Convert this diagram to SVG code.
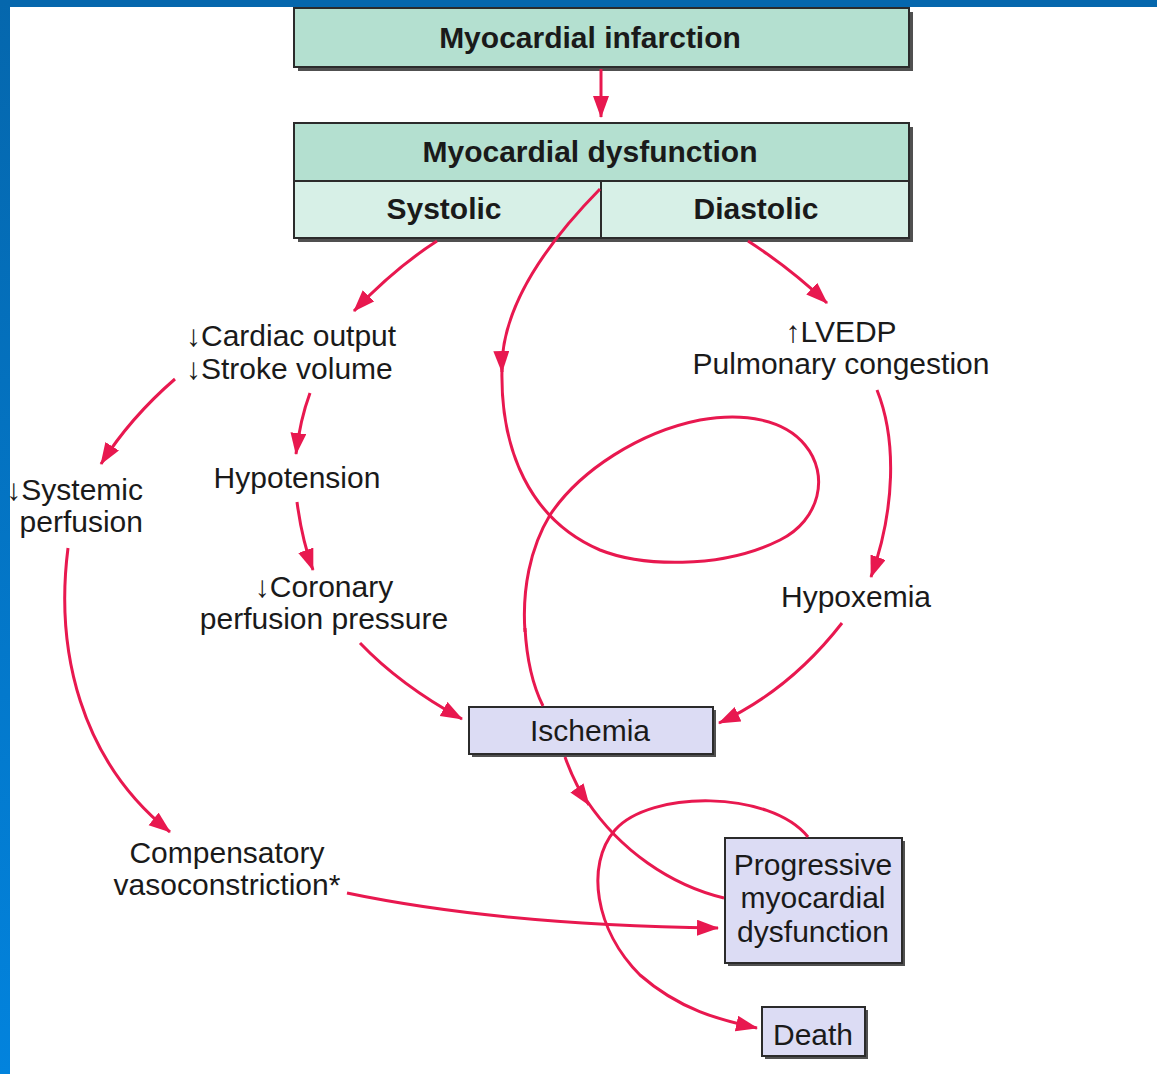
<svg xmlns="http://www.w3.org/2000/svg" width="1157" height="1074" viewBox="0 0 1157 1074">
<style>
.t{font-family:"Liberation Sans",Arial,Helvetica,sans-serif;font-size:30px;fill:#1a1a1a;text-anchor:middle}
.b{font-weight:bold}
.l{text-anchor:start}
.e{text-anchor:end}
.sh{fill:#505050}
.bx{stroke:#2b2b2b;stroke-width:2}
.g1{fill:#b4e0d0}
.g2{fill:#d7f0e7}
.pu{fill:#dcdcf4}
.c{fill:none;stroke:#e8184f;stroke-width:3}
.ar{marker-end:url(#ah)}
</style>
<defs>
<linearGradient id="lb" x1="0" y1="0" x2="0" y2="1">
<stop offset="0" stop-color="#0567ad"/>
<stop offset="1" stop-color="#0283dd"/>
</linearGradient>
<marker id="ah" markerUnits="userSpaceOnUse" markerWidth="24" markerHeight="18" refX="21" refY="8" orient="auto">
<path d="M0,0 L22,8 L0,16 Z" fill="#e8184f"/>
</marker>
</defs>
<rect x="0" y="0" width="1157" height="1074" fill="#ffffff"/>
<rect x="0" y="0" width="1157" height="7" fill="#0567ad"/>
<rect x="0" y="0" width="10" height="1074" fill="url(#lb)"/>

<g id="n-infarction">
<rect class="sh" x="298" y="12" width="615" height="59"/>
<rect class="g1 bx" x="294" y="8" width="615" height="59"/>
<text class="t b" x="590" y="48">Myocardial infarction</text>
</g>

<g id="n-dysfunction">
<rect class="sh" x="298" y="127" width="615" height="115"/>
<rect class="g1" x="294" y="123" width="615" height="58"/>
<rect class="g2" x="294" y="181" width="615" height="57"/>
<rect class="bx" x="294" y="123" width="615" height="115" fill="none"/>
<line class="bx" x1="294" y1="181" x2="909" y2="181"/>
<line class="bx" x1="601" y1="181" x2="601" y2="238"/>
<text class="t b" x="590" y="162">Myocardial dysfunction</text>
</g>

<g id="n-systolic">
<text class="t b" x="444" y="219">Systolic</text>
</g>
<g id="n-diastolic">
<text class="t b" x="756" y="219">Diastolic</text>
</g>

<g id="n-cardiac">
<text class="t l" x="186" y="346">↓Cardiac output</text>
<text class="t l" x="186" y="379">↓Stroke volume</text>
</g>

<g id="n-systemic">
<text class="t e" x="143" y="500">↓Systemic</text>
<text class="t e" x="143" y="532">perfusion</text>
</g>

<g id="n-hypotension">
<text class="t" x="297" y="488">Hypotension</text>
</g>

<g id="n-coronary">
<text class="t" x="324" y="597">↓Coronary</text>
<text class="t" x="324" y="629">perfusion pressure</text>
</g>

<g id="n-lvedp">
<text class="t" x="841" y="342">↑LVEDP</text>
<text class="t" x="841" y="374">Pulmonary congestion</text>
</g>

<g id="n-hypoxemia">
<text class="t" x="856" y="607">Hypoxemia</text>
</g>

<g id="n-ischemia">
<rect class="sh" x="472" y="710" width="244" height="47"/>
<rect class="pu bx" x="469" y="707" width="244" height="47"/>
<text class="t" x="590" y="741">Ischemia</text>
</g>

<g id="n-compensatory">
<text class="t" x="227" y="863">Compensatory</text>
<text class="t" x="227" y="895">vasoconstriction*</text>
</g>

<g id="n-progressive">
<rect class="sh" x="728" y="841" width="177" height="125"/>
<rect class="pu bx" x="725" y="838" width="177" height="125"/>
<text class="t" x="813" y="875">Progressive</text>
<text class="t" x="813" y="908">myocardial</text>
<text class="t" x="813" y="942">dysfunction</text>
</g>

<g id="n-death">
<rect class="sh" x="765" y="1010" width="103" height="49"/>
<rect class="pu bx" x="762" y="1007" width="103" height="49"/>
<text class="t" x="813" y="1045">Death</text>
</g>

<g id="connectors">
<path class="c ar" d="M601,69 L601,117"/>
<path class="c ar" d="M437,241 Q395,268 354,311"/>
<path class="c ar" d="M748,241 Q790,268 827,303"/>
<path class="c ar" d="M600,189 C545,245 500,310 502,372"/>
<path class="c" d="M502,368 C500,450 530,520 600,550 C640,566 720,570 780,540 C820,520 830,475 805,445 C785,420 745,412 700,420 C640,432 580,470 550,515 C530,548 522,590 525,632"/>
<path class="c" d="M525,628 C527,665 535,690 543,706"/>
<path class="c ar" d="M175,379 Q130,418 101,464"/>
<path class="c ar" d="M310,393 Q300,420 296,454"/>
<path class="c ar" d="M297,502 Q302,540 313,570"/>
<path class="c ar" d="M360,643 Q400,685 462,719"/>
<path class="c ar" d="M877,390 C897,440 895,510 871,577"/>
<path class="c ar" d="M842,623 Q790,690 719,723"/>
<path class="c ar" d="M68,548 C55,650 80,760 170,832"/>
<path class="c ar" d="M565,757 Q575,785 589,805"/>
<path class="c" d="M587,801 C620,850 670,885 724,898"/>
<path class="c ar" d="M808,837 C770,790 650,790 615,830 C585,865 595,930 640,975 C680,1010 720,1020 757,1028"/>
<path class="c ar" d="M347,893 Q500,925 718,928"/>
</g>
</svg>
